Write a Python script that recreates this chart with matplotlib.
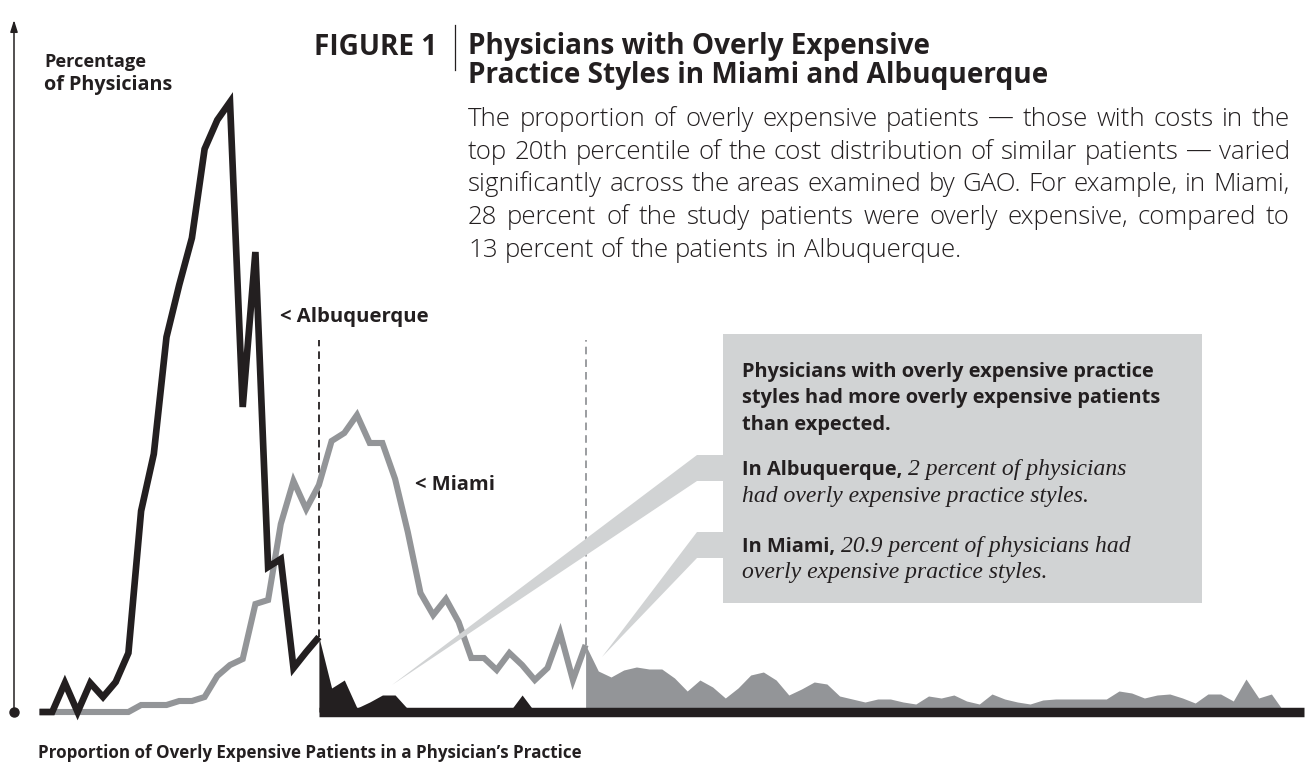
import matplotlib
matplotlib.use("Agg")
import matplotlib.pyplot as plt
from matplotlib.patches import Polygon, Rectangle

W, H, DPI = 1311, 767, 100
INK = "#231f20"
GREY = "#939598"
LIGHT = "#d1d3d4"
SANS = ["Open Sans", "DejaVu Sans"]
SERIF = ["Liberation Serif", "DejaVu Serif"]

# ---- data: share of physicians (%) by proportion of overly expensive patients (1-point bins)
alb_line_bins = list(range(0, 23))
alb_line = [0, 0, 0.58, 0, 0.58, 0.30, 0.60, 1.18, 4.02, 5.16, 7.50, 8.54,
            9.48, 11.26, 11.84, 12.20, 6.10, 9.20, 2.90, 3.06, 0.88, 1.20, 1.50]
alb_tail_bins = list(range(22, 40))
alb_tail = [1.50, 0.48, 0.64, 0.08, 0.20, 0.34, 0.34, 0.06, 0, 0, 0, 0,
            0, 0, 0, 0, 0.34, 0]
mia_line_bins = list(range(0, 44))
mia_line = [0, 0, 0, 0, 0, 0, 0, 0, 0.14, 0.14, 0.14, 0.22, 0.22, 0.30, 0.72,
            0.94, 1.06, 2.16, 2.24, 3.76, 4.62, 4.06, 4.54, 5.42, 5.58, 5.94,
            5.38, 5.38, 4.66, 3.60, 2.38, 1.94, 2.26, 1.80, 1.08, 1.08, 0.84,
            1.18, 0.94, 0.64, 0.88, 1.58, 0.64, 1.34]
mia_tail_bins = list(range(43, 99))
mia_tail = [1.34, 0.82, 0.70, 0.84, 0.90, 0.86, 0.86, 0.68, 0.42, 0.64, 0.50,
            0.28, 0.48, 0.74, 0.80, 0.64, 0.34, 0.46, 0.60, 0.56, 0.32, 0.26,
            0.20, 0.26, 0.26, 0.20, 0.16, 0.32, 0.28, 0.34, 0.22, 0.16, 0.36,
            0.26, 0.20, 0.16, 0.24, 0.26, 0.26, 0.26, 0.26, 0.26, 0.42, 0.38,
            0.28, 0.34, 0.36, 0.28, 0.18, 0.36, 0.36, 0.22, 0.66, 0.28, 0.36, 0]
alb_cutoff = 22
mia_cutoff = 43
axis_end = 99.6

fig = plt.figure(figsize=(W / DPI, H / DPI), dpi=DPI)
fig.patch.set_facecolor("white")
ax = fig.add_axes([0, 0, 1, 1])
X0, STEP, Y0, UNIT = 39.5, 12.7, 55, 50.0
ax.set_xlim(-X0 / STEP, (W - X0) / STEP)
ax.set_ylim(-Y0 / UNIT, (H - Y0) / UNIT)
ax.axis("off")


def dx(px):
    return (px - X0) / STEP


def dy(py):
    return (H - py - Y0) / UNIT


# fills and lines
ax.fill_between(mia_tail_bins, 0, mia_tail, color=GREY, lw=0, zorder=2)
ax.fill_between(alb_tail_bins, 0, alb_tail, color=INK, lw=0, zorder=3)
ax.plot([alb_cutoff, axis_end], [0, 0], color=INK, lw=6.8,
        solid_capstyle="butt", zorder=4)
ax.plot(mia_line_bins, mia_line, color=GREY, lw=4.4, solid_joinstyle="miter",
        solid_capstyle="butt", zorder=5)
ax.plot(alb_line_bins, alb_line, color=INK, lw=4.8, solid_joinstyle="miter",
        solid_capstyle="butt", zorder=6)

# dashed cutoff lines
ax.plot([alb_cutoff, alb_cutoff], [alb_tail[0], dy(340)], color=INK, lw=1.3,
        dashes=(4.2, 2.8), zorder=1)
ax.plot([mia_cutoff, mia_cutoff], [mia_tail[0], dy(340)], color=GREY, lw=1.3,
        dashes=(4.2, 2.8), zorder=1)

# y axis with arrow and dot
ax.annotate("", xy=(dx(14), dy(20)), xytext=(dx(14), 0),
            arrowprops=dict(arrowstyle="-|>,head_length=0.7,head_width=0.22",
                            lw=1.1, color=INK, shrinkA=0, shrinkB=0))
ax.plot([dx(14)], [0], "o", ms=6.5, color=INK, zorder=7)


def fpos(x, y):
    return x / W, 1 - y / H


renderer = fig.canvas.get_renderer()


def width(t):
    return t.get_window_extent(renderer).width


def fit(x, y, s, target, **kw):
    t = fig.text(*fpos(x, y), s, fontsize=12, color=INK, **kw)
    t.set_fontsize(12 * target / width(t))
    return t


# callout wedges and box
wedges = [
    [(392, 685), (697, 455), (724, 455), (724, 481), (697, 481)],
    [(602, 657), (697, 532), (724, 532), (724, 558), (697, 558)],
]
for wdg in wedges:
    fig.patches.append(Polygon([fpos(x, y) for x, y in wdg], closed=True,
                               transform=fig.transFigure, color=LIGHT, lw=0,
                               zorder=1))
fig.patches.append(Rectangle(fpos(723, 603), (1202 - 723) / W, (603 - 334) / H,
                             transform=fig.transFigure, color=LIGHT, lw=0,
                             zorder=1))

# titles
fig1 = fit(437, 55, "FIGURE 1", 123, family=SANS, weight="bold", ha="right")
tsize = fig1.get_fontsize()
fig.add_artist(plt.Line2D([455 / W, 455 / W], [1 - 25 / H, 1 - 70 / H],
                          color=INK, lw=0.9))
fig.text(*fpos(468, 54), "Physicians with Overly Expensive", fontsize=tsize,
         family=SANS, weight="bold", color=INK)
fig.text(*fpos(468, 83), "Practice Styles in Miami and Albuquerque",
         fontsize=tsize, family=SANS, weight="bold", color=INK)

# paragraph, justified
para = [
    "The proportion of overly expensive patients \u2014 those with costs in the",
    "top 20th percentile of the cost distribution of similar patients \u2014 varied",
    "significantly across the areas examined by GAO. For example, in Miami,",
    "28 percent of the study patients were overly expensive, compared to",
    "13 percent of the patients in Albuquerque.",
]
pbase = [126, 159, 191, 224, 257]
PX0, PX1 = 468, 1290
probe = fig.text(0, 0, para[1], fontsize=12, family=SANS, weight="light")
psize = 12 * (PX1 - PX0 - 8) / width(probe)
probe.remove()
for i, (line, yb) in enumerate(zip(para, pbase)):
    words = line.split(" ")
    ts = [fig.text(0, 0, w, fontsize=psize, family=SANS, weight="light",
                   color=INK) for w in words]
    ws = [width(t) for t in ts]
    if i < len(para) - 1:
        gap = (PX1 - PX0 - sum(ws)) / (len(words) - 1)
    else:
        sp = fig.text(0, 0, "a b", fontsize=psize, family=SANS, weight="light")
        sp2 = fig.text(0, 0, "ab", fontsize=psize, family=SANS, weight="light")
        gap = width(sp) - width(sp2)
        sp.remove()
        sp2.remove()
    x = PX0
    for t, w in zip(ts, ws):
        t.set_position(fpos(x, yb))
        x += w + gap

# axis labels and series labels
fit(44, 67, "Percentage", 102, family=SANS, weight="bold")
fit(44, 90, "of Physicians", 128, family=SANS, weight="bold")
fit(280, 322, "< Albuquerque", 148, family=SANS, weight="bold")
fit(415, 490, "< Miami", 80, family=SANS, weight="bold")
fit(38, 758, "Proportion of Overly Expensive Patients in a Physician\u2019s Practice",
    541, family=SANS, weight="bold")

# box text
BX = 742
b2 = fit(BX, 403, "styles had more overly expensive patients", 420, family=SANS,
         weight="bold")
bsize = b2.get_fontsize()
fig.text(*fpos(BX, 377), "Physicians with overly expensive practice",
         fontsize=bsize, family=SANS, weight="bold", color=INK)
fig.text(*fpos(BX, 430), "than expected.", fontsize=bsize, family=SANS,
         weight="bold", color=INK)
i2 = fit(BX, 502, "had overly expensive practice styles.", 346, family=SERIF,
         style="italic")
isize = i2.get_fontsize()
fig.text(*fpos(BX, 578), "overly expensive practice styles.", fontsize=isize,
         family=SERIF, style="italic", color=INK)
for lead, rest, yb in [("In Albuquerque,", "2 percent of physicians", 475),
                       ("In Miami,", "20.9 percent of physicians had", 552)]:
    t = fig.text(*fpos(BX, yb), lead, fontsize=bsize, family=SANS,
                 weight="bold", color=INK)
    fig.text(*fpos(BX + width(t) + 6, yb), rest, fontsize=isize, family=SERIF,
             style="italic", color=INK)

fig.savefig("out.png", dpi=DPI, facecolor="white")
